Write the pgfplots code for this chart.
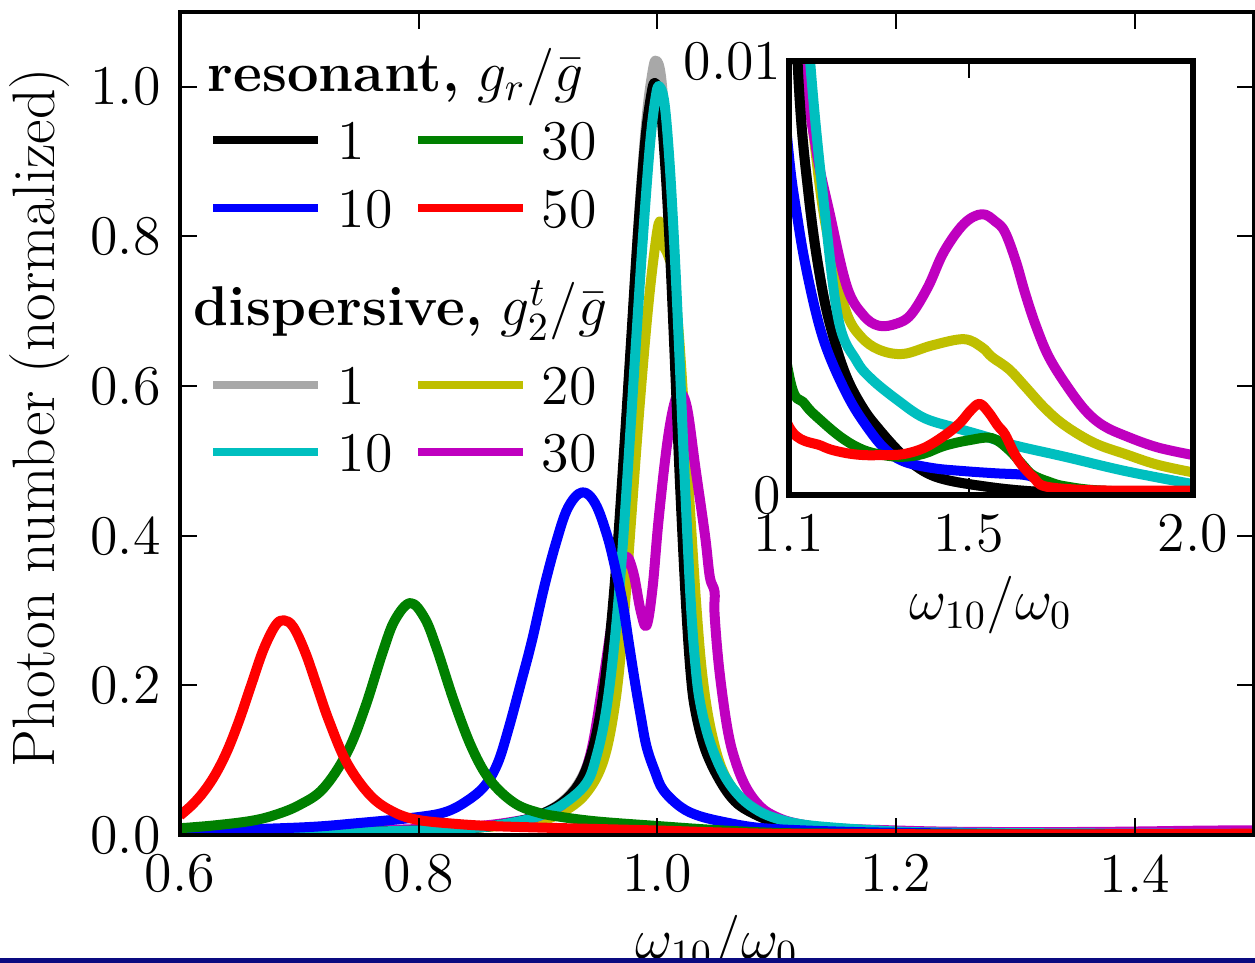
\documentclass[border=0pt]{standalone}
\usepackage{fontspec}
\usepackage{pgfplots}
\usepackage{pgfplotstable}
\pgfplotsset{compat=1.18}

\definecolor{mplgreen}{rgb}{0,0.5,0}
\definecolor{mplcyan}{rgb}{0,0.75,0.75}
\definecolor{mplyellow}{rgb}{0.75,0.75,0}
\definecolor{mplmagenta}{rgb}{0.75,0,0.75}
\definecolor{mplgray}{rgb}{0.66,0.66,0.66}
\definecolor{slideblue}{rgb}{0.04,0.04,0.50}

% ---------------- resonant coupling ----------------
\pgfplotstableread{
x y
0.60 0.0015
0.70 0.0030
0.80 0.0060
0.85 0.0100
0.88 0.0170
0.90 0.0260
0.92 0.0430
0.935 0.070
0.945 0.110
0.953 0.170
0.960 0.260
0.966 0.370
0.972 0.510
0.978 0.660
0.984 0.810
0.990 0.930
0.995 0.990
0.998 1.005
1.002 0.985
1.006 0.910
1.010 0.800
1.014 0.660
1.019 0.470
1.024 0.310
1.028 0.215
1.032 0.165
1.040 0.115
1.052 0.074
1.065 0.045
1.080 0.029
1.100 0.016
1.120 0.0098
1.145 0.0068
1.173 0.0048
1.200 0.0036
1.229 0.0027
1.265 0.0020
1.300 0.00152
1.350 0.00095
1.400 0.00055
1.450 0.00035
1.534 0.00020
1.620 0.00010
1.715 0.00005
1.850 0.00002
2.000 0.00001
}\resA

\pgfplotstableread{
x y
0.60 0.005
0.70 0.010
0.75 0.016
0.80 0.024
0.823 0.031
0.84 0.045
0.855 0.065
0.866 0.095
0.875 0.140
0.886 0.205
0.895 0.260
0.905 0.330
0.915 0.390
0.925 0.437
0.937 0.458
0.948 0.443
0.958 0.400
0.965 0.355
0.971 0.310
0.976 0.258
0.981 0.207
0.986 0.160
0.991 0.118
0.998 0.085
1.005 0.060
1.020 0.037
1.036 0.025
1.060 0.016
1.080 0.0105
1.100 0.0078
1.120 0.0063
1.138 0.00523
1.165 0.0040
1.191 0.00318
1.230 0.0023
1.265 0.0017
1.310 0.0011
1.354 0.00078
1.420 0.00062
1.490 0.00055
1.560 0.00050
1.626 0.00046
1.655 0.00035
1.680 0.00020
1.740 0.00012
1.806 0.00009
1.900 0.00005
2.000 0.00003
}\resB

\pgfplotstableread{
x y
0.60 0.009
0.63 0.013
0.66 0.019
0.68 0.027
0.70 0.040
0.72 0.062
0.74 0.110
0.755 0.170
0.770 0.245
0.780 0.287
0.793 0.310
0.805 0.290
0.815 0.250
0.830 0.177
0.845 0.115
0.860 0.073
0.880 0.043
0.900 0.030
0.920 0.024
0.950 0.018
1.000 0.012
1.050 0.0065
1.100 0.00276
1.135 0.0021
1.173 0.00170
1.220 0.00130
1.265 0.00104
1.310 0.00092
1.354 0.00088
1.400 0.00095
1.445 0.00113
1.500 0.00126
1.552 0.00131
1.590 0.00104
1.620 0.00070
1.643 0.00046
1.680 0.00030
1.715 0.00020
1.800 0.00010
2.000 0.00005
}\resC

\pgfplotstableread{
x y
0.60 0.026
0.61 0.040
0.62 0.058
0.63 0.082
0.64 0.114
0.65 0.155
0.66 0.202
0.67 0.248
0.68 0.280
0.687 0.287
0.695 0.278
0.705 0.244
0.715 0.198
0.725 0.152
0.740 0.096
0.760 0.052
0.780 0.030
0.800 0.020
0.830 0.015
0.860 0.012
0.900 0.010
0.950 0.008
1.000 0.0060
1.050 0.0035
1.100 0.00157
1.173 0.00113
1.220 0.00098
1.265 0.00092
1.310 0.00092
1.354 0.00094
1.400 0.00108
1.445 0.00136
1.480 0.00165
1.505 0.00195
1.525 0.00210
1.545 0.00190
1.565 0.00160
1.581 0.00140
1.600 0.00100
1.617 0.00071
1.645 0.00040
1.670 0.00020
1.750 0.00012
1.850 0.00010
2.000 0.00010
}\resD

% ---------------- dispersive coupling ----------------
\pgfplotstableread{
x y
0.60 0.0015
0.70 0.0030
0.80 0.0060
0.85 0.0100
0.88 0.0170
0.90 0.0260
0.92 0.0440
0.935 0.072
0.945 0.112
0.954 0.175
0.961 0.268
0.967 0.381
0.973 0.525
0.979 0.680
0.985 0.834
0.991 0.958
0.996 1.020
0.999 1.035
1.003 1.015
1.007 0.937
1.011 0.824
1.015 0.680
1.020 0.484
1.025 0.319
1.029 0.221
1.033 0.170
1.041 0.118
1.053 0.076
1.066 0.046
1.080 0.030
1.100 0.016
1.120 0.0098
1.145 0.0068
1.173 0.0048
1.200 0.0036
1.229 0.0027
1.265 0.0020
1.300 0.00152
1.350 0.00095
1.400 0.00055
1.450 0.00035
1.534 0.00020
1.620 0.00010
1.715 0.00005
1.850 0.00002
2.000 0.00001
}\disA

\pgfplotstableread{
x y
0.60 0.0015
0.70 0.0030
0.80 0.0060
0.85 0.0100
0.88 0.0170
0.90 0.0250
0.92 0.0400
0.94 0.068
0.949 0.105
0.957 0.165
0.964 0.255
0.970 0.365
0.976 0.505
0.982 0.655
0.988 0.800
0.994 0.925
0.999 0.990
1.002 1.000
1.006 0.978
1.010 0.905
1.014 0.795
1.018 0.660
1.023 0.475
1.028 0.312
1.032 0.226
1.036 0.176
1.044 0.125
1.056 0.080
1.070 0.050
1.085 0.032
1.100 0.022
1.120 0.0145
1.147 0.0100
1.180 0.0065
1.211 0.0040
1.250 0.0031
1.283 0.00268
1.340 0.0022
1.400 0.00178
1.470 0.00155
1.534 0.00136
1.600 0.00115
1.715 0.00088
1.850 0.00055
2.000 0.00025
}\disB

\pgfplotstableread{
x y
0.60 0.002
0.70 0.004
0.80 0.007
0.85 0.010
0.88 0.014
0.90 0.018
0.92 0.030
0.94 0.055
0.955 0.100
0.965 0.180
0.972 0.290
0.978 0.420
0.985 0.570
0.992 0.700
0.998 0.785
1.002 0.820
1.005 0.790
1.009 0.775
1.013 0.750
1.018 0.670
1.023 0.550
1.028 0.420
1.033 0.300
1.038 0.210
1.045 0.140
1.055 0.085
1.070 0.048
1.085 0.030
1.100 0.021
1.120 0.0140
1.140 0.0100
1.170 0.0070
1.200 0.0053
1.229 0.00417
1.260 0.00365
1.300 0.00335
1.354 0.00325
1.420 0.00345
1.490 0.00359
1.530 0.00340
1.552 0.00318
1.590 0.00290
1.626 0.00250
1.670 0.00200
1.715 0.00160
1.780 0.00120
1.850 0.00094
1.920 0.00070
2.000 0.00052
}\disC

\pgfplotstableread{
x y
0.60 0.002
0.70 0.004
0.80 0.008
0.85 0.012
0.88 0.018
0.90 0.025
0.92 0.040
0.935 0.068
0.945 0.115
0.954 0.200
0.962 0.285
0.968 0.345
0.974 0.372
0.980 0.350
0.986 0.300
0.991 0.280
0.996 0.330
1.001 0.420
1.008 0.520
1.014 0.575
1.019 0.591
1.025 0.570
1.032 0.490
1.040 0.400
1.044 0.345
1.048 0.325
1.048 0.295
1.052 0.220
1.059 0.140
1.066 0.096
1.075 0.062
1.087 0.037
1.100 0.024
1.115 0.016
1.138 0.0100
1.160 0.0080
1.191 0.00647
1.229 0.00480
1.265 0.00415
1.300 0.00390
1.340 0.00395
1.372 0.00416
1.410 0.00480
1.445 0.00560
1.490 0.00625
1.530 0.00647
1.560 0.00630
1.581 0.00606
1.605 0.00540
1.626 0.00465
1.650 0.00390
1.679 0.00318
1.720 0.00250
1.761 0.00194
1.800 0.00160
1.850 0.00136
1.920 0.00110
2.000 0.00092
}\disD

\pgfplotsset{
  spectrum/.style={
    scale only axis,
    axis on top,
    tick align=inside,
    major tick length=4.25pt,
    every tick/.style={black, line width=0.5pt},
    tick label style={font=\fontsize{14}{16}\selectfont},
    label style={font=\fontsize{14}{16}\selectfont},
    every axis plot/.append style={line width=2.5pt, line join=round, no marks, smooth, tension=0.6},
  },
  % drawing order of the eight spectra
  all spectra/.code={},
}

\newcommand\drawspectra{%
  \addplot[mplgray]    table {\disA};
  \addplot[mplyellow]  table {\disC};
  \addplot[mplmagenta] table {\disD};
  \addplot[black]      table {\resA};
  \addplot[mplcyan]    table {\disB};
  \addplot[blue]       table {\resB};
  \addplot[mplgreen]   table {\resC};
  \addplot[red]        table {\resD};
}

\begin{document}
\fontsize{14}{16}\selectfont
\begin{tikzpicture}
\path[use as bounding box] (0pt,0pt) rectangle (313.75pt,240.75pt);

% main spectrum
\begin{axis}[
  spectrum,
  at={(45pt,32pt)}, anchor=south west,
  width=268.5pt, height=205.75pt,
  axis line style={line width=0.8pt},
  xmin=0.6, xmax=1.5, ymin=0, ymax=1.1,
  xtick={0.6,0.8,1.0,1.2,1.4},
  xticklabels={0.6,0.8,1.0,1.2,1.4},
  ytick={0,0.2,0.4,0.6,0.8,1.0},
  yticklabels={0.0,0.2,0.4,0.6,0.8,1.0},
  xlabel={$\omega_{10}/\omega_0$},
  ylabel={Photon number (normalized)},
  every axis x label/.style={at={(rel axis cs:0.5,0)}, anchor=base, yshift=-31pt},
  every axis y label/.style={at={(rel axis cs:0,0.5)}, xshift=-35pt, yshift=1.5pt, rotate=90, anchor=center, font=\fontsize{15}{17}\selectfont},
]
\drawspectra
\end{axis}

% zoom on the high-frequency tail
\begin{axis}[
  spectrum,
  at={(197.25pt,117pt)}, anchor=south west,
  width=101pt, height=108.5pt,
  axis background/.style={fill=white},
  axis line style={line width=1.4pt},
  xmin=1.1, xmax=2.0, ymin=0, ymax=0.01,
  xtick={1.1,1.5,2.0},
  xticklabels={1.1,1.5,2.0},
  ytick={0,0.01},
  yticklabels={0,0.01},
  scaled y ticks=false,
  yticklabel style={inner sep=1.75pt},
  xlabel={$\omega_{10}/\omega_0$},
  every axis x label/.style={at={(rel axis cs:0.5,0)}, anchor=base, yshift=-31.25pt},
]
\drawspectra
\end{axis}

% legends, laid out on a 0.25pt grid measured from the top left corner
\begin{scope}[shift={(0pt,240.75pt)}, x=0.25pt, y=-0.25pt, every node/.style={anchor=base west, inner sep=0pt}]
  \node at (207,92) {\textbf{resonant,} $g_r/\bar{g}$};
  \draw[black, line width=2pt]    (213,140) -- (318,140);
  \node at (337,160) {1};
  \draw[mplgreen, line width=2pt] (418,140) -- (523,140);
  \node at (541,160) {30};
  \draw[blue, line width=2pt]     (213,208) -- (318,208);
  \node at (337,228) {10};
  \draw[red, line width=2pt]      (418,208) -- (523,208);
  \node at (541,228) {50};

  \node at (193,326) {\textbf{dispersive,} $g_2^t/\bar{g}$};
  \draw[mplgray, line width=2pt]    (213,385) -- (318,385);
  \node at (337,405) {1};
  \draw[mplyellow, line width=2pt]  (418,385) -- (523,385);
  \node at (541,405) {20};
  \draw[mplcyan, line width=2pt]    (213,452) -- (318,452);
  \node at (337,472) {10};
  \draw[mplmagenta, line width=2pt] (418,452) -- (523,452);
  \node at (541,472) {30};

  \fill[slideblue] (0,958) rectangle (1255,963);
\end{scope}
\end{tikzpicture}
\end{document}
